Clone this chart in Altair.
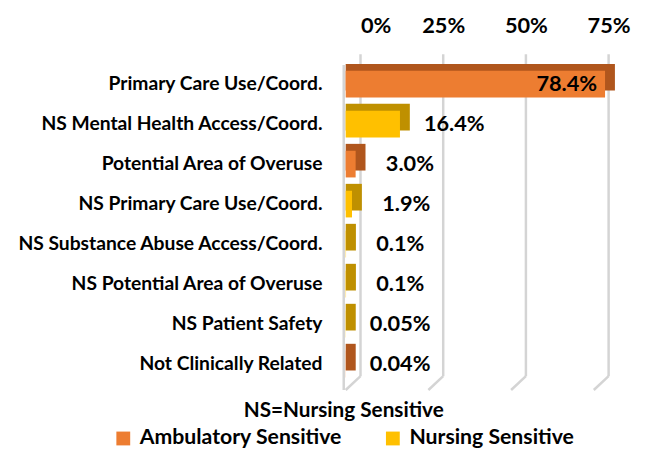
import altair as alt
import pandas as pd

categories = [
    "Primary Care Use/Coord.",
    "NS Mental Health Access/Coord.",
    "Potential Area of Overuse",
    "NS Primary Care Use/Coord.",
    "NS Substance Abuse Access/Coord.",
    "NS Potential Area of Overuse",
    "NS Patient Safety",
    "Not Clinically Related",
]
values = [0.784, 0.164, 0.030, 0.019, 0.001, 0.001, 0.0005, 0.0004]
value_labels = ["78.4%", "16.4%", "3.0%", "1.9%", "0.1%", "0.1%", "0.05%", "0.04%"]
groups = ["Ambulatory Sensitive", "Nursing Sensitive", "Ambulatory Sensitive",
          "Nursing Sensitive", "Nursing Sensitive", "Nursing Sensitive",
          "Nursing Sensitive", "Ambulatory Sensitive"]
tick_values = [0, 0.25, 0.5, 0.75]

group_names = ["Ambulatory Sensitive", "Nursing Sensitive"]
front_colors = ["#ED7D31", "#FFC000"]
side_colors = {"Ambulatory Sensitive": "#B0561D", "Nursing Sensitive": "#BF9000"}

df = pd.DataFrame({
    "category": categories,
    "value": values,
    "label": value_labels,
    "group": groups,
})
df["side"] = [side_colors[g] for g in groups]
ticks = pd.DataFrame({"tick": tick_values})

FONT = "Lato"
xscale = alt.Scale(domain=[0, 0.8], nice=False)
yenc = alt.Y(
    "category:N",
    sort=categories,
    scale=alt.Scale(paddingInner=0.333, paddingOuter=0.1667),
    axis=alt.Axis(title=None, domain=False, ticks=False, labelPadding=24,
                  labelFont=FONT, labelFontSize=19.5, labelFontWeight="bold",
                  labelColor="#000000", labelLimit=400),
)

grid_back = alt.Chart(ticks).mark_rule(color="#D4D4D4", strokeWidth=2.5, xOffset=15).encode(
    x=alt.X("tick:Q", scale=xscale,
            axis=alt.Axis(orient="top", format=".0%", values=tick_values, grid=False,
                          domain=False, ticks=False, labelPadding=27, labelOffset=15,
                          labelFont=FONT, labelFontSize=22, labelFontWeight="bold",
                          labelColor="#000000", title=None)),
    y=alt.value(-10),
    y2=alt.value(316),
)
grid_floor = alt.Chart(ticks).mark_rule(color="#D4D4D4", strokeWidth=2.5, xOffset=15, x2Offset=0).encode(
    x=alt.X("tick:Q", scale=xscale),
    x2=alt.X2("tick:Q"),
    y=alt.value(316),
    y2=alt.value(330),
)
left_wall = alt.Chart(ticks).transform_filter("datum.tick == 0").mark_rule(
    color="#D4D4D4", strokeWidth=2.5, xOffset=-2).encode(
    x=alt.X("tick:Q", scale=xscale),
    y=alt.value(1),
    y2=alt.value(330),
)

base = alt.Chart(df)
back_bar = base.mark_bar(xOffset=10, x2Offset=0, yOffset=-7).encode(
    x=alt.X("value:Q", scale=xscale),
    x2=alt.datum(0),
    y=yenc,
    color=alt.Color("side:N", scale=None),
)
front_bar = base.mark_bar().encode(
    x=alt.X("value:Q", scale=xscale),
    x2=alt.datum(0),
    y=yenc,
    color=alt.Color(
        "group:N",
        scale=alt.Scale(domain=group_names, range=front_colors),
        legend=alt.Legend(
            title="NS=Nursing Sensitive", orient="none", legendX=-236, legendY=340,
            direction="horizontal", titleAnchor="middle", titleFont=FONT,
            titleFontSize=21, titleFontWeight="bold", titleColor="#000000",
            titlePadding=7, titleLimit=500, labelFont=FONT, labelFontSize=21.5,
            labelFontWeight="bold", labelColor="#000000", symbolType="square",
            symbolSize=196, symbolStrokeWidth=0, symbolOpacity=1, labelOffset=6,
            columnPadding=40, labelLimit=400,
        ),
    ),
)
text_inside = base.transform_filter(alt.datum.value > 0.5).mark_text(
    align="right", baseline="middle", dx=-8, font=FONT, fontSize=22,
    fontWeight="bold", color="#000000").encode(
    x=alt.X("value:Q", scale=xscale), y=yenc, text="label:N")
text_outside = base.transform_filter(alt.datum.value <= 0.5).mark_text(
    align="center", baseline="middle", dx=55, font=FONT, fontSize=22,
    fontWeight="bold", color="#000000").encode(
    x=alt.X("value:Q", scale=xscale), y=yenc, text="label:N")

chart = alt.layer(
    grid_back, grid_floor, left_wall, back_bar, front_bar, text_inside, text_outside
).properties(
    width=268, height=324,
    autosize=alt.AutoSizeParams(type="none"),
    padding={"left": 342, "top": 54, "right": 27, "bottom": 68},
    background="#FFFFFF",
).configure_view(stroke=None)

chart.save("out.html", embed_options={"renderer": "svg", "actions": False})
